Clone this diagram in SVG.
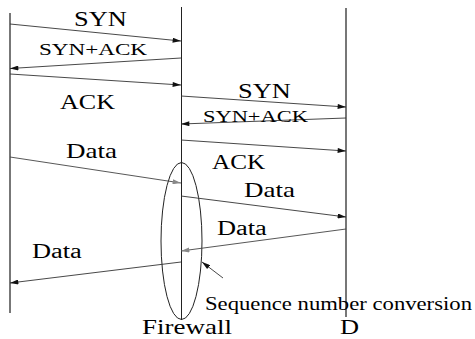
<svg xmlns="http://www.w3.org/2000/svg" width="475" height="339" viewBox="0 0 475 339">
<style>
.ln{stroke:#222;stroke-width:1;fill:none}
.ll{stroke:#555;stroke-width:1.6;fill:none}
.ar{stroke:#333;stroke-width:0.9;fill:none;marker-end:url(#ab)}
.ag{stroke:#444;stroke-width:0.9;fill:none;marker-end:url(#ag)}
.t{fill:#000;font-family:"Liberation Serif","Times New Roman",serif}
</style>
<defs>
<marker id="ab" viewBox="0 0 10 6" refX="10" refY="3" markerWidth="9" markerHeight="5" markerUnits="userSpaceOnUse" orient="auto"><path d="M0,0L10,3L0,6z" fill="#111"/></marker>
<marker id="ag" viewBox="0 0 10 6" refX="10" refY="3" markerWidth="9" markerHeight="5" markerUnits="userSpaceOnUse" orient="auto"><path d="M0,0L10,3L0,6z" fill="#888"/></marker>
</defs>
<g id="lifelines">
<line class="ll" x1="10" y1="13" x2="10" y2="313"/>
<line class="ln" x1="181.5" y1="7" x2="181.5" y2="320"/>
<line class="ll" x1="346" y1="8" x2="346" y2="317"/>
</g>
<g id="firewall-ellipse">
<ellipse cx="181.5" cy="241" rx="20.5" ry="78.5" class="ln" stroke="#333"/>
</g>
<g id="connectors">
<line class="ar" x1="10" y1="24" x2="181" y2="41"/>
<line class="ar" x1="181" y1="58" x2="10" y2="68.5"/>
<line class="ar" x1="10" y1="74" x2="181" y2="85"/>
<line class="ar" x1="181" y1="96" x2="346" y2="107"/>
<line class="ar" x1="346" y1="118" x2="181" y2="124"/>
<line class="ar" x1="181" y1="140" x2="346" y2="151"/>
<line class="ag" x1="10" y1="157" x2="181" y2="183"/>
<line class="ar" x1="181" y1="196" x2="346" y2="217"/>
<line class="ag" x1="346" y1="229" x2="181" y2="251"/>
<line class="ar" x1="181" y1="262" x2="10" y2="283"/>
<line class="ar" x1="223" y1="278" x2="202" y2="262"/>
</g>
<g id="labels">
<text class="t" transform="translate(74,26) scale(1.32,1)" font-size="20">SYN</text>
<text class="t" transform="translate(39,55) scale(1.36,1)" font-size="17">SYN+ACK</text>
<text class="t" transform="translate(60,109) scale(1.24,1)" font-size="21">ACK</text>
<text class="t" transform="translate(66,158) scale(1.35,1)" font-size="20">Data</text>
<text class="t" transform="translate(238,98) scale(1.32,1)" font-size="20">SYN</text>
<text class="t" transform="translate(203,122) scale(1.32,1)" font-size="17">SYN+ACK</text>
<text class="t" transform="translate(212,169) scale(1.26,1)" font-size="20">ACK</text>
<text class="t" transform="translate(244,197) scale(1.35,1)" font-size="20">Data</text>
<text class="t" transform="translate(217,235) scale(1.32,1)" font-size="20">Data</text>
<text class="t" transform="translate(32,258) scale(1.32,1)" font-size="20">Data</text>
<text class="t" transform="translate(205,310) scale(1.26,1)" font-size="18">Sequence number conversion</text>
<text class="t" transform="translate(142,334) scale(1.35,1)" font-size="20">Firewall</text>
<text class="t" transform="translate(340,334) scale(1.32,1)" font-size="20">D</text>
</g>
</svg>
